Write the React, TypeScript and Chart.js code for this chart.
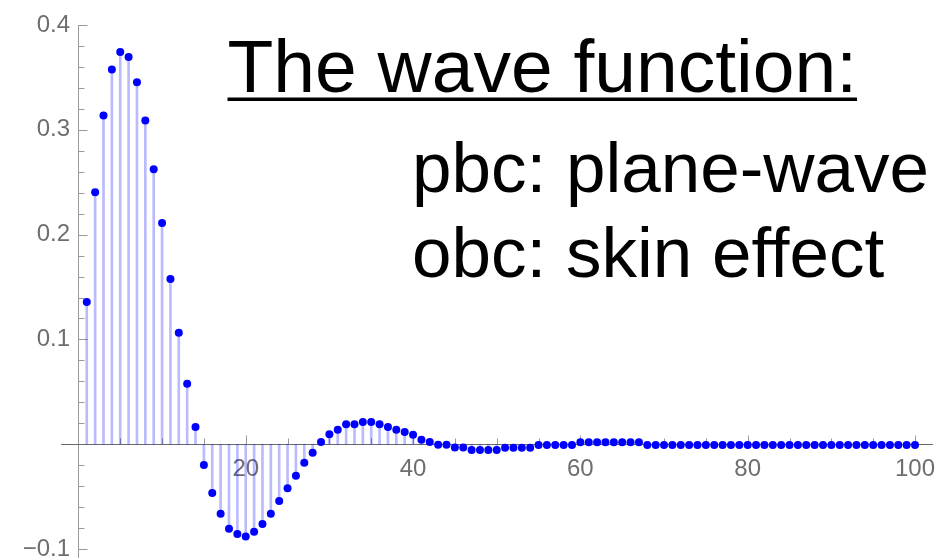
import React, { useEffect, useRef } from "react";
import { Chart, registerables } from "chart.js";

Chart.register(...registerables);

// Site index n = 1..100 and the amplitude of the wave function on each site
const siteValues: number[] = [
  0.1358, 0.2404, 0.3136, 0.3575, 0.3743, 0.3695, 0.3454, 0.3088, 0.2624, 0.2112,
  0.1577, 0.1065, 0.0578, 0.0165, -0.0198, -0.0465, -0.0662, -0.0805, -0.0856, -0.0881,
  -0.0834, -0.076, -0.0662, -0.0541, -0.042, -0.03, -0.0176, -0.008, 0.0022, 0.0095,
  0.0139, 0.0191, 0.0191, 0.0213, 0.0213, 0.0191, 0.0165, 0.0139, 0.0117, 0.0092,
  0.0044, 0.0022, -0.0004, -0.0004, -0.003, -0.003, -0.0054, -0.0054, -0.0054, -0.0054,
  -0.0032, -0.0032, -0.0032, -0.0032, -0.0007, -0.0007, -0.0007, -0.0007, -0.0007, 0.0019,
  0.0019, 0.0019, 0.0019, 0.0019, 0.0019, 0.0019, 0.0019, -0.0007, -0.0007, -0.0007,
  -0.0007, -0.0007, -0.0007, -0.0007, -0.0007, -0.0007, -0.0007, -0.0007, -0.0007, -0.0007,
  -0.0007, -0.0007, -0.0007, -0.0007, -0.0007, -0.0007, -0.0007, -0.0007, -0.0007, -0.0007,
  -0.0007, -0.0007, -0.0007, -0.0007, -0.0007, -0.0007, -0.0007, -0.0007, -0.0007, -0.0007,
];

// Axis ticks
const xMajorTicks = [20, 40, 60, 80, 100];
const xTickLabels = ["20", "40", "60", "80", "100"];
const xMinorTicks = [5, 10, 15, 25, 30, 35, 45, 50, 55, 65, 70, 75, 85, 90, 95];
const yMajorTicks = [-0.1, 0.1, 0.2, 0.3, 0.4];
const yTickLabels = ["\u22120.1", "0.1", "0.2", "0.3", "0.4"];
const yMinorTicks = [
  -0.08, -0.06, -0.04, -0.02, 0.02, 0.04, 0.06, 0.08, 0.12, 0.14, 0.16, 0.18,
  0.22, 0.24, 0.26, 0.28, 0.32, 0.34, 0.36, 0.38,
];

// Plot range
const X_MIN = -2.08;
const X_MAX = 102.03;
const Y_MIN = -0.1085;
const Y_MAX = 0.4;
// y tick labels are anchored one x-unit left of the vertical axis
const Y_LABEL_ANCHOR = -1;

// Annotation text
const titleText = "The wave function:";
const noteLines = ["pbc: plane-wave", "obc: skin effect"];

const FONT = "'Liberation Sans', Arial, Helvetica, sans-serif";
const TICK_COLOR = "#9a9a9a";
const LABEL_COLOR = "#6e6e6e";

const near = (a: number, b: number) => Math.abs(a - b) < 1e-9;

// Short inward tick marks at the crossing axes
const axisTicks = {
  id: "axisTicks",
  beforeDatasetsDraw(chart: any) {
    const { ctx, scales } = chart;
    const xs = scales.x;
    const ys = scales.y;
    const x0 = Math.round(xs.getPixelForValue(0)) + 0.5;
    const y0 = Math.round(ys.getPixelForValue(0)) + 0.5;
    ctx.save();
    ctx.strokeStyle = TICK_COLOR;
    ctx.lineWidth = 1;
    xs.ticks.forEach((t: any) => {
      if (near(t.value, 0)) return;
      const px = Math.round(xs.getPixelForValue(t.value)) + 0.5;
      const len = xMajorTicks.some((m) => near(m, t.value)) ? 9 : 6;
      ctx.beginPath();
      ctx.moveTo(px, y0);
      ctx.lineTo(px, y0 - len);
      ctx.stroke();
    });
    ys.ticks.forEach((t: any) => {
      const py = Math.round(ys.getPixelForValue(t.value)) + 0.5;
      const len = yMajorTicks.some((m) => near(m, t.value)) ? 9 : 6;
      ctx.beginPath();
      ctx.moveTo(x0, py);
      ctx.lineTo(x0 + len, py);
      ctx.stroke();
    });
    ctx.restore();
  },
};

// Heading and the two notes in the upper right
const annotations = {
  id: "annotations",
  afterDraw(chart: any) {
    const { ctx } = chart;
    ctx.save();
    ctx.fillStyle = "#000";
    ctx.textBaseline = "alphabetic";
    ctx.textAlign = "left";
    ctx.font = `75px ${FONT}`;
    const tx = 227.5;
    const ty = 92;
    ctx.fillText(titleText, tx, ty);
    const w = ctx.measureText(titleText).width;
    ctx.fillRect(tx, ty + 5.5, w, 3.5);
    ctx.font = `71px ${FONT}`;
    ctx.fillText(noteLines[0], 412, 192);
    ctx.fillText(noteLines[1], 412, 277);
    ctx.restore();
  },
};

const noPadding = (scale: any) => {
  scale.paddingLeft = 0;
  scale.paddingRight = 0;
  scale.paddingTop = 0;
  scale.paddingBottom = 0;
};

export default function App() {
  const canvasRef = useRef<HTMLCanvasElement | null>(null);

  useEffect(() => {
    if (!canvasRef.current) return;
    const points = siteValues.map((v, i) => ({ x: i + 1, y: v }));

    const chart = new Chart(canvasRef.current, {
      type: "scatter",
      data: {
        datasets: [
          {
            type: "bar",
            data: points,
            backgroundColor: "rgba(0,0,255,0.27)",
            borderWidth: 0,
            barThickness: 2,
            order: 2,
          } as any,
          {
            type: "scatter",
            data: points,
            pointRadius: 4,
            pointHoverRadius: 4,
            pointBackgroundColor: "#0000ff",
            pointBorderWidth: 0,
            order: 1,
          },
        ],
      },
      options: {
        responsive: false,
        animation: false,
        events: [],
        layout: { autoPadding: false, padding: { left: 61, right: 12, top: 25, bottom: 0 } },
        plugins: {
          legend: { display: false },
          tooltip: { enabled: false },
          title: { display: false },
        },
        scales: {
          x: {
            type: "linear",
            min: X_MIN,
            max: X_MAX,
            offset: false,
            position: { y: 0 } as any,
            // the vertical axis line is the grid line at x = 0
            grid: {
              display: true,
              offset: false,
              drawOnChartArea: true,
              drawTicks: false,
              lineWidth: 1,
              color: (c: any) => (c.tick && near(c.tick.value, 0) ? TICK_COLOR : "rgba(0,0,0,0)"),
            },
            border: { display: true, color: "#6a6a6a", width: 1 },
            afterBuildTicks: (scale: any) => {
              scale.ticks = [0, ...xMinorTicks, ...xMajorTicks]
                .sort((a, b) => a - b)
                .map((v) => ({ value: v }));
            },
            afterFit: (scale: any) => {
              scale.height = 0;
              noPadding(scale);
            },
            ticks: {
              autoSkip: false,
              maxRotation: 0,
              padding: 11,
              color: LABEL_COLOR,
              font: { family: FONT, size: 24 },
              callback: (value: any) => {
                const idx = xMajorTicks.findIndex((m) => near(m, Number(value)));
                return idx >= 0 ? xTickLabels[idx] : "";
              },
            },
          },
          y: {
            type: "linear",
            min: Y_MIN,
            max: Y_MAX,
            position: { x: Y_LABEL_ANCHOR } as any,
            grid: { display: false, drawTicks: false },
            border: { display: false },
            afterBuildTicks: (scale: any) => {
              scale.ticks = [...yMinorTicks, ...yMajorTicks]
                .sort((a, b) => a - b)
                .map((v) => ({ value: v }));
            },
            afterFit: (scale: any) => {
              scale.width = 0;
              noPadding(scale);
            },
            ticks: {
              autoSkip: false,
              padding: 0,
              color: LABEL_COLOR,
              font: { family: FONT, size: 24 },
              callback: (value: any) => {
                const idx = yMajorTicks.findIndex((m) => near(m, Number(value)));
                return idx >= 0 ? yTickLabels[idx] : "";
              },
            },
          },
        },
      },
      plugins: [axisTicks, annotations],
    });

    return () => chart.destroy();
  }, []);

  return (
    <div style={{ position: "absolute", left: 0, top: 0, width: 944, height: 558, background: "#fff" }}>
      <canvas ref={canvasRef} width={944} height={558} />
    </div>
  );
}
